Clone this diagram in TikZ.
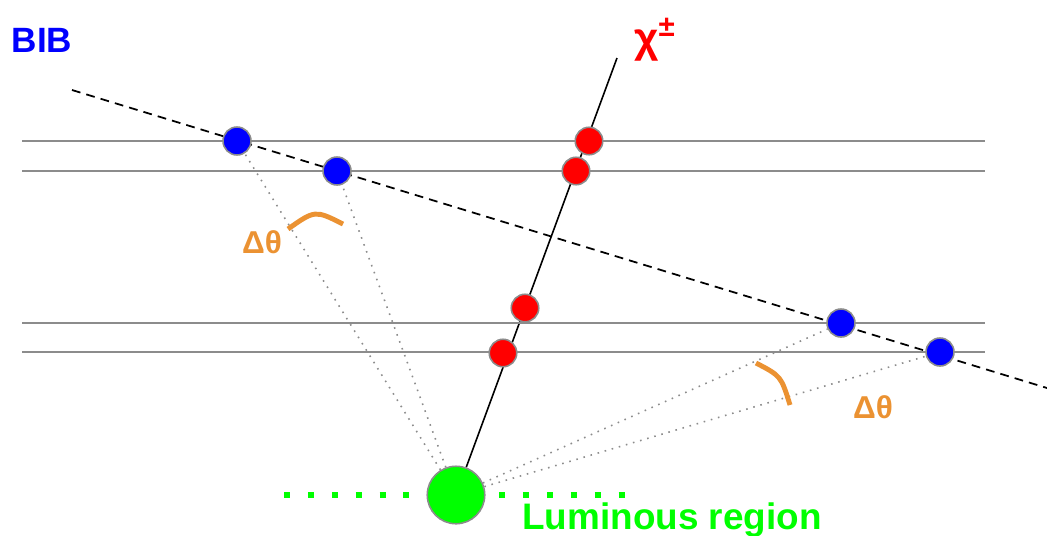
\documentclass[tikz,border=0pt]{standalone}
\usepackage{fontspec}
\setmainfont{Liberation Sans}
\usepackage{tikz}
\usetikzlibrary{backgrounds}
\definecolor{bibblue}{RGB}{0,0,255}
\definecolor{hitred}{RGB}{255,0,0}
\definecolor{lumgreen}{RGB}{0,255,0}
\definecolor{angorange}{RGB}{235,146,50}
\definecolor{laygray}{RGB}{140,140,140}
\tikzset{bibpt/.style={circle, draw=laygray, line width=0.9pt, fill=bibblue, inner sep=0pt, minimum size=0.56cm}}
\tikzset{hitpt/.style={circle, draw=laygray, line width=0.9pt, fill=hitred, inner sep=0pt, minimum size=0.55cm}}
\tikzset{layer/.style={draw=laygray, line width=1pt}}
\tikzset{sightline/.style={draw=laygray, line width=0.9pt, dash pattern=on 0.9pt off 3.3pt}}
\tikzset{dtheta/.style={draw=angorange, line width=2.8pt}}
\tikzset{dthetalab/.style={text=angorange, font=\bfseries\fontsize{18}{21}\selectfont}}

\begin{document}
\begin{tikzpicture}[x=0.02cm, y=-0.02cm]
\useasboundingbox (0,0) rectangle (1047,535);

% detector layers
\draw[layer] (22,141) -- (985,141);
\draw[layer] (22,171) -- (985,171);
\draw[layer] (22,323) -- (985,323);
\draw[layer] (22,352) -- (985,352);

% luminous region
\draw[draw=lumgreen, line width=3.4pt, dash pattern=on 3.4pt off 10.2pt] (284,495) -- (628,495);
\node[circle, draw=laygray, line width=0.9pt, fill=lumgreen, inner sep=0pt, minimum size=1.15cm] (ip) at (456,495) {};

\coordinate (bibin) at (72,90);
\coordinate (bibout) at (1047,388);
\coordinate (chitop) at (617,58);

\node[bibpt] (b1) at (237,141) {};
\node[bibpt] (b2) at (337,171) {};
\node[bibpt] (b3) at (841,323) {};
\node[bibpt] (b4) at (940,352) {};

\node[hitpt] (r1) at (589,141) {};
\node[hitpt] (r2) at (576,171) {};
\node[hitpt] (r3) at (525,308) {};
\node[hitpt] (r4) at (503,353) {};

\begin{pgfonlayer}{background}
\draw[black, line width=1pt, dash pattern=on 5pt off 3.5pt] (bibin) -- (bibout);
\draw[black, line width=0.9pt] (ip) -- (chitop);
\draw[sightline] (ip) -- (b1);
\draw[sightline] (ip) -- (b2);
\draw[sightline] (ip) -- (b3);
\draw[sightline] (ip) -- (b4);
\end{pgfonlayer}

% angles
\draw[dtheta] (288,229) .. controls (315,210) .. (343,224);
\draw[dtheta] (756,363) .. controls (781,376) .. (790,405);
\node[dthetalab] (dt1) at (262,242) {Δθ};
\node[dthetalab] (dt2) at (873,407) {Δθ};

\node[text=bibblue, font=\bfseries\fontsize{20}{24}\selectfont] (bib) at (42,40) {BIB};
\node[text=hitred, font=\bfseries\fontsize{24}{28}\selectfont] (chi) at (655,40) {χ\textsuperscript{±}};
\node[text=lumgreen, font=\bfseries\fontsize{21}{25}\selectfont] (lum) at (672,520) {Luminous region};

\end{tikzpicture}
\end{document}
